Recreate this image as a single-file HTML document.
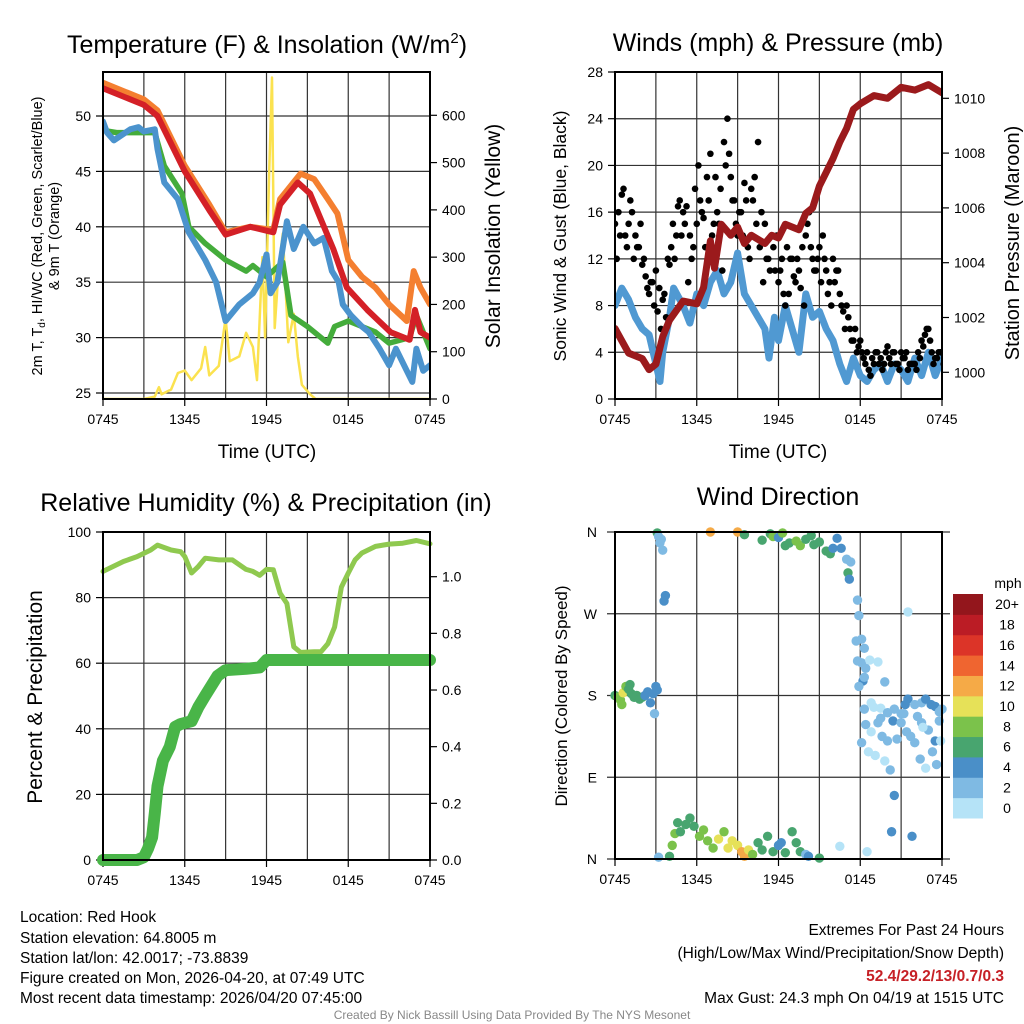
<!DOCTYPE html>
<html><head><meta charset="utf-8"><style>
html,body{margin:0;padding:0;background:#fff;}
svg{display:block;font-family:"Liberation Sans",sans-serif;}
</style></head><body>
<svg id="chart" width="1024" height="1024" viewBox="0 0 1024 1024" xmlns="http://www.w3.org/2000/svg">
<rect width="1024" height="1024" fill="#fff"/>
<g id="g1"></g>
<g id="g2"></g>
<g id="g3"></g>
<g id="g4"></g>
<text x="267" y="53" font-size="25" text-anchor="middle">Temperature (F) &amp; Insolation (W/m<tspan font-size="15" dy="-10">2</tspan><tspan dy="10">)</tspan></text>
<text x="778" y="51" font-size="25" text-anchor="middle">Winds (mph) &amp; Pressure (mb)</text>
<text x="266" y="511" font-size="25" text-anchor="middle">Relative Humidity (%) &amp; Precipitation (in)</text>
<text x="778" y="505" font-size="25" text-anchor="middle">Wind Direction</text>
<text transform="translate(42,236) rotate(-90)" font-size="14.5" text-anchor="middle">2m T, T<tspan font-size="10" dy="3">d</tspan><tspan dy="-3">, HI/WC (Red, Green, Scarlet/Blue)</tspan></text>
<text transform="translate(59,236) rotate(-90)" font-size="14.5" text-anchor="middle">&amp; 9m T (Orange)</text>
<text transform="translate(500,236) rotate(-90)" font-size="21" text-anchor="middle">Solar Insolation (Yellow)</text>
<text transform="translate(566,236) rotate(-90)" font-size="17.5" text-anchor="middle">Sonic Wind &amp; Gust (Blue, Black)</text>
<text transform="translate(1019,243) rotate(-90)" font-size="20" text-anchor="middle">Station Pressure (Maroon)</text>
<text transform="translate(42,697) rotate(-90)" font-size="21" text-anchor="middle">Percent &amp; Precipitation</text>
<text transform="translate(567,696) rotate(-90)" font-size="17" text-anchor="middle">Direction (Colored By Speed)</text>
<text x="267" y="458" font-size="19" text-anchor="middle">Time (UTC)</text>
<text x="778" y="458" font-size="19" text-anchor="middle">Time (UTC)</text>
<g font-size="15.5">
<text x="20" y="922">Location: Red Hook</text>
<text x="20" y="943">Station elevation: 64.8005 m</text>
<text x="20" y="963">Station lat/lon: 42.0017; -73.8839</text>
<text x="20" y="983">Figure created on Mon, 2026-04-20, at 07:49 UTC</text>
<text x="20" y="1003">Most recent data timestamp: 2026/04/20 07:45:00</text>
</g>
<g font-size="15.5" text-anchor="end">
<text x="1004" y="935">Extremes For Past 24 Hours</text>
<text x="1004" y="958">(High/Low/Max Wind/Precipitation/Snow Depth)</text>
<text x="1004" y="981" fill="#c62026" font-weight="bold">52.4/29.2/13/0.7/0.3</text>
<text x="1004" y="1003">Max Gust: 24.3 mph On 04/19 at 1515 UTC</text>
</g>
<text x="512" y="1019" font-size="12" fill="#888" text-anchor="middle">Created By Nick Bassill Using Data Provided By The NYS Mesonet</text>
</svg>
<script>
// ---------- data ----------
const xTickLabels = ["0745","1345","1945","0145","0745"];
const tempTicks = [25,30,35,40,45,50];
const solarTicks = [0,100,200,300,400,500,600];
const windTicks = [0,4,8,12,16,20,24,28];
const presTicks = [1000,1002,1004,1006,1008,1010];
const rhTicks = [0,20,40,60,80,100];
const precipTicks = [0.0,0.2,0.4,0.6,0.8,1.0];
const dirLabels = ["N","E","S","W","N"];
const dirTicks = [0,90,180,270,360];
const cbarLabels = ["0","2","4","6","8","10","12","14","16","18","20+"];

const redT = [0,3,4,6,7.8,9,10.8,12.5,13,14.3,15.2,16.9,17.9,19.4,21.1,22.5,22.9,23.3,24];
const redV = [52.5,51,50,45,41.5,39.3,40,39.5,42,44,43,38,34.5,32.5,30.5,29.8,32.5,30.5,30];
const orT = [0,3,4,6,7.8,9,10.8,12.5,13,14.5,15.5,16.5,17.2,18,19,20,21,22.3,22.8,23.3,24];
const orV = [53,51.5,50.5,45.5,42,39.5,40,39.7,42.5,44.8,44.3,42.5,41.2,37,35.5,34.5,33,31.5,36,34.5,33];
const grT = [0,1,3.8,4.5,5.8,6.3,7.5,9,10.5,11,12,13.2,13.8,15,16.5,17,18,19,20,21,22.5,23,24];
const grV = [48.7,48.5,48.5,45.5,43,40,38.5,37,36,36.5,35.5,36.8,32,31,29.5,31,31.5,31,30.5,29.5,30,32,29];
const blT = [0,0.3,0.8,2,2.6,3,3.8,4,4.5,5.5,6.3,7.5,8.3,9,10,11,11.5,12,12.3,12.8,13.5,14,14.7,15.5,16.2,16.8,17.3,17.6,18.2,19,19.5,20.3,21,21.5,22.3,22.7,23,23.5,24];
const blV = [49.5,48.5,47.8,48.8,49,48.6,48.8,47,44,42.5,39.5,37,35,31.5,33,34,35,37.5,34,35,40.5,38,40,38.5,39,36,35,33,32,31,30.5,29,27.5,29,27,26,29,27,27.5];
const solT = [0,3,3.8,4.1,4.3,5,5.5,6,6.5,7.2,7.5,7.8,8.5,9,9.3,10,10.5,11,11.3,11.7,11.9,12.2,12.4,12.6,12.9,13.2,13.6,14,14.3,14.6,15.2,15.6,24];
const solV = [0,0,5,25,10,20,55,60,40,65,110,50,70,170,80,90,140,110,40,300,130,480,680,150,280,350,120,180,90,30,10,0,0];

const presT = [0,1,2,2.5,3,3.5,4,5,6,6.5,7,7.3,7.8,8.5,9,9.5,10,11,11.5,12,12.5,13.5,14,14.5,15,15.5,16,16.5,17,17.5,18,19,20,21,22,23,24];
const presV = [1001.6,1000.7,1000.5,1000.1,1000.3,1001.3,1001.9,1002.6,1002.5,1003.1,1004.8,1003.8,1005.4,1005,1005.3,1004.7,1005,1004.7,1005,1004.9,1005.4,1005.2,1005.8,1006,1006.8,1007.3,1007.8,1008.4,1008.9,1009.6,1009.8,1010.1,1010.0,1010.4,1010.3,1010.5,1010.2];
const windT = [0,0.5,1,1.5,2,2.5,3,3.3,3.5,4,4.3,5,5.5,6,6.5,7,7.5,8,8.5,9,9.5,10,10.5,11,11.3,11.7,12,12.5,13,13.5,14,14.5,15,15.5,16,16.5,17,17.5,18,18.5,19,19.5,20,20.5,21,21.5,22,22.5,23,23.5,24];
const windV = [8,9.5,8.5,7,6,5.5,3,1.5,4,7,9.5,8,6.5,9,8,10,11,9,10,12.5,9,8,7,6,3.5,7,5,8,6,4,9,7,7.5,6,5,3,1.5,3.5,2,1.5,2.5,3,1.5,3,2.5,1.5,3.5,2,4,2,3.5];
const gustV = [15,16,17.5,14,15,16,14,13,11.5,10.5,9,10,11,9.5,8.5,7,11.5,15,14,17,16,16.5,14,13,15,17,15.5,19,21,15,16,18,22,24,19,17,14,16,18.5,13,18,19,22,16,15,12,14,11,10,12,8,9,12,10,11,13,14,16,12,11,13,14,11,10,12,11,9,7.5,8,6,5,4,5,3.5,4,2,3,4,3.5,3,4.5,3,4,3,4,3.5,2.5,3,3,4,5,5.5,6,4,3.5,4,4];
const gustV2 = [12,14,18,13,17,12,13,15,12,9.5,10,8,7.5,6,9,12,13,12,16.5,14,15,10,12,18,20,16,13,17,14,19,15,11,20,21,17,15,16,14,17,12,17,15,13,10,12,11,13,14,11,9,13,12,10.5,12,9.5,8,15,13,11,12,10,12,9,8,10,11,8,6,7,5,6,4.5,4,3,2.5,3.5,4,3,2.5,4,3.5,4,3,2.5,3.5,4,3,3,2.5,3.5,4.5,6,5,3,3.5,4,3];

const rhT = [0,1.5,2.5,3.5,4,5,5.7,6,6.5,7,7.5,8.5,9.5,10.5,11,11.5,12,12.5,13,13.5,14,14.5,15.5,16,16.5,17,17.5,18,18.5,19,20,21,22,23,24];
const rhV = [88,91,92.5,94.5,96,94.5,94,92.5,87.5,89.5,92,91.5,91.5,88.6,88,86.8,88.6,88.5,81.3,78.2,65,63.3,63.5,63.5,65.9,71,83.2,87.5,91.5,93.6,95.6,96.3,96.6,97.4,96.4];
const pcT = [0,2.5,3,3.3,3.6,3.8,4,4.4,4.9,5.3,5.7,6.5,7,7.5,8.4,9,10.5,11.5,12,24];
const pcV = [0,0,0.01,0.04,0.08,0.165,0.26,0.35,0.40,0.47,0.48,0.49,0.54,0.58,0.65,0.67,0.675,0.68,0.706,0.706];

const dirH = [0,0.2,0.4,0.6,0.8,1.0,1.2,1.4,1.6,1.8,2.0,2.2,2.4,2.6,2.8,3.0,3.1,0.5,1.1,2.9,
 3.1,3.2,3.4,3.3,3.5,3.7,3.6,
 3.2,4,4.2,4.4,4.6,4.8,5.2,5.5,5.8,6.2,6.5,6.8,7.2,7.6,8,8.3,8.6,9,9.3,9.5,9.8,10.1,10.5,10.8,11.2,11.6,12,12.2,12.5,13,13.3,13.6,14,14.2,15,16.5,18.5,
 7,9,9.5,10.8,11.4,11.6,12,12.3,12.5,12.8,13.3,13.6,14,14.4,14.6,15,15.5,15.8,16,16.3,16.6,17,17.3,17.1,17.2,
 17.8,17.9,17.7,18.1,18.3,17.8,18.1,18.4,18.7,19.3,18.2,18.3,17.9,18.8,19.8,21.5,21.5,
 18.3,19,19.5,20,20.5,21,21.3,22,22.5,22.8,23.2,23.5,23.8,24,18.4,18.8,19.3,19.6,20,20.4,20.7,21,21.4,21.7,22,22.5,23,23.5,23.8,18.1,18.6,19.1,19.8,20.2,20.5,20.3,21.8,22.8,22.4,23.3,23.6,21.2,19.5,22.2,22.6,23.9];
const dirDeg = [180,178,175,183,190,187,182,178,180,176,178,180,184,172,182,190,186,170,192,160,
 359,355,352,348,340,290,284,
 2,3,15,28,40,30,38,45,36,25,32,20,12,22,30,12,20,15,8,3,10,5,18,10,25,8,15,18,7,30,18,8,5,3,1,14,8,
 360,360,357,351,358,355,354,359,345,348,350,345,352,356,346,349,339,336,342,353,342,330,327,315,308,
 285,268,240,242,232,218,216,210,219,217,196,200,190,172,195,272,176,
 165,167,166,161,165,160,170,170,172,176,170,168,162,165,148,140,150,135,130,152,132,150,140,135,128,150,142,130,152,128,118,114,108,98,70,30,25,100,110,118,104,160,155,157,145,130];
const dirSpd = [7,8,9,10,8,7,6,6,6,6,6,5,4,4,4,4,5,8,7,2,
 6,2,2,2,2,4,4,
 2,6,8,8,6,7,6,6,7,9,8,9,8,10,8,10,10,11,12,12,10,8,6,7,6,6,5,4,6,6,6,7,3,4,7,0,0,
 12,12,6,6,6,8,5,8,6,6,8,8,6,6,7,6,6,6,4,4,4,2,2,6,4,
 2,2,2,2,2,2,2,2,0,0,4,2,2,0,2,0,4,
 2,0,0,2,2,2,4,2,2,4,4,4,2,2,2,0,2,2,2,4,2,2,2,2,2,2,2,4,2,2,0,0,0,2,4,4,4,0,2,2,2,2,2,2,0,0];
const cbarColors = ["#b5e3f7","#7fbae3","#4a8fc8","#48a56f","#7bc24b","#e6e158","#f5aa47","#ef6530","#dc3428","#bb1c25","#93161c"];

// ---------- helpers ----------
const NS = "http://www.w3.org/2000/svg";
function mk(parent, tag, attrs){ const e=document.createElementNS(NS,tag); for(const k in attrs) e.setAttribute(k,attrs[k]); parent.appendChild(e); return e; }
function lin(d0,d1,r0,r1){ return v => r0 + (v-d0)/(d1-d0)*(r1-r0); }
function pathD(ts, vs, sx, sy){ return ts.map((t,i)=>(i?"L":"M")+sx(t).toFixed(1)+","+sy(vs[i]).toFixed(1)).join(""); }

function frame(g, P){
  for(let h=3; h<24; h+=3){
    const x=P.sx(h);
    const l=mk(g,"line",{x1:x,x2:x,y1:P.y0,y2:P.y1,stroke:"#333","stroke-width":1.2});
    
    
  }
  xTickLabels.forEach((lab,i)=>{
    const x=P.sx(i*6);
    mk(g,"line",{x1:x,x2:x,y1:P.y1,y2:P.y1+7,stroke:"#000","stroke-width":1.2});
    const t=mk(g,"text",{x:x,y:P.y1+25,"font-size":14,"text-anchor":"middle"});
    t.textContent=lab;
    
    
  });
}
function leftAxis(g,P,ticks,sy,fmt,grid){
  ticks.forEach(v=>{
    const y=sy(v);
    if(grid){ mk(g,"line",{x1:P.x0,x2:P.x1,y1:y,y2:y,stroke:"#333","stroke-width":1.2}); }
    mk(g,"line",{x1:P.x0-7,x2:P.x0,y1:y,y2:y,stroke:"#000","stroke-width":1.2});
    const t=mk(g,"text",{x:P.x0-12,y:y+5,"font-size":14,"text-anchor":"end"});
    t.textContent=fmt(v);
    
    
  });
}
function rightAxis(g,P,ticks,sy,fmt){
  ticks.forEach(v=>{
    const y=sy(v);
    mk(g,"line",{x1:P.x1,x2:P.x1+7,y1:y,y2:y,stroke:"#000","stroke-width":1.2});
    const t=mk(g,"text",{x:P.x1+12,y:y+5,"font-size":14,"text-anchor":"start"});
    t.textContent=fmt(v);
    
    
  });
}
function border(g,P){
  const r=mk(g,"rect",{x:P.x0,y:P.y0,width:P.x1-P.x0,height:P.y1-P.y0,fill:"none",stroke:"#000","stroke-width":2});
  
  
}
function series(g,ts,vs,sx,sy,color,w,name){
  const p=mk(g,"path",{d:pathD(ts,vs,sx,sy),fill:"none",stroke:color,"stroke-width":w,"stroke-linejoin":"round","stroke-linecap":"round"});
  
  
  return p;
}

// ---------- panel 1 ----------
(function(){
  const g=document.getElementById("g1");
  const P={x0:103,x1:430,y0:72,y1:399};
  P.sx=lin(0,24,P.x0,P.x1);
  const sy=lin(25,50,393,116);
  const sy2=lin(0,600,399,115.3);
  frame(g,P);
  leftAxis(g,P,tempTicks,sy,v=>v,true);
  rightAxis(g,P,solarTicks,sy2,v=>v);
  const clip=mk(g,"clipPath",{id:"c1"}); mk(clip,"rect",{x:P.x0,y:P.y0,width:P.x1-P.x0,height:P.y1-P.y0});
  const s=mk(g,"g",{"clip-path":"url(#c1)"});
  series(s,solT,solV,P.sx,sy2,"#fbe24f",2.5,"solar-insolation-line");
  series(s,orT,orV,P.sx,sy,"#f47f30",6,"9m-temperature-line");
  series(s,grT,grV,P.sx,sy,"#44ac3b",5.5,"dewpoint-line");
  series(s,blT,blV,P.sx,sy,"#4b93cd",6,"wind-chill-line");
  series(s,redT,redV,P.sx,sy,"#d42027",6,"2m-temperature-line");
  border(g,P);
})();

// ---------- panel 2 ----------
(function(){
  const g=document.getElementById("g2");
  const P={x0:615,x1:942,y0:72,y1:399};
  P.sx=lin(0,24,P.x0,P.x1);
  const sy=lin(0,28,399,72);
  const sy2=lin(1000,1010,372.3,98.3);
  frame(g,P);
  leftAxis(g,P,windTicks,sy,v=>v,true);
  rightAxis(g,P,presTicks,sy2,v=>v);
  const clip=mk(g,"clipPath",{id:"c2"}); mk(clip,"rect",{x:P.x0,y:P.y0,width:P.x1-P.x0,height:P.y1-P.y0});
  const s=mk(g,"g",{"clip-path":"url(#c2)"});
  series(s,windT,windV,P.sx,sy,"#5099d2",7,"sonic-wind-line");
  gustV.forEach((v,i)=>{
    const c=mk(s,"circle",{cx:P.sx(i*0.25),cy:sy(v),r:3.3,fill:"#000"});
    
    
  });
  gustV2.forEach((v,i)=>{
    const c=mk(s,"circle",{cx:P.sx(i*0.25+0.125),cy:sy(v),r:3.3,fill:"#000"});
    
    
  });
  series(s,presT,presV,P.sx,sy2,"#9b1a1c",7,"station-pressure-line");
  border(g,P);
})();

// ---------- panel 3 ----------
(function(){
  const g=document.getElementById("g3");
  const P={x0:103,x1:430,y0:532,y1:860};
  P.sx=lin(0,24,P.x0,P.x1);
  const sy=lin(0,100,860,532);
  const sy2=lin(0,1,860,576.7);
  frame(g,P);
  leftAxis(g,P,rhTicks,sy,v=>v,true);
  rightAxis(g,P,precipTicks,sy2,v=>v.toFixed(1));
  series(g,rhT,rhV,P.sx,sy,"#8fc94f",5,"relative-humidity-line");
  series(g,pcT,pcV,P.sx,sy2,"#49b548",12,"precipitation-line");
  border(g,P);
})();

// ---------- panel 4 ----------
(function(){
  const g=document.getElementById("g4");
  const P={x0:615,x1:942,y0:532,y1:859};
  P.sx=lin(0,24,P.x0,P.x1);
  const sy=lin(0,360,859,532);
  frame(g,P);
  dirTicks.forEach((v,i)=>{
    const y=sy(v);
    mk(g,"line",{x1:P.x0-8,x2:P.x1+8,y1:y,y2:y,stroke:"#333","stroke-width":1.2});
    const t=mk(g,"text",{x:P.x0-18,y:y+5,"font-size":14,"text-anchor":"end"});
    t.textContent=dirLabels[i];
    
    
  });
  dirH.forEach((h,i)=>{
    const bin=Math.min(10,Math.floor(dirSpd[i]/2));
    const c=mk(g,"circle",{cx:P.sx(h),cy:sy(dirDeg[i]),r:4.7,fill:cbarColors[bin]});
    
    
  });
  border(g,P);
  const cb=mk(g,"g",{});
  
  
  const top=594, bh=(818-594)/11;
  cbarColors.forEach((col,i)=>{
    const y=top+(10-i)*bh;
    const r=mk(cb,"rect",{x:953,y:y,width:30,height:bh+0.5,fill:col});
    
    
    const t=mk(cb,"text",{x:1007,y:y+bh/2+5,"font-size":14,"text-anchor":"middle"});
    t.textContent=cbarLabels[i];
    
    
  });
  const u=mk(cb,"text",{x:1008,y:588,"font-size":14,"text-anchor":"middle"});
  u.textContent="mph";
  
  
})();
</script>
</body></html>
